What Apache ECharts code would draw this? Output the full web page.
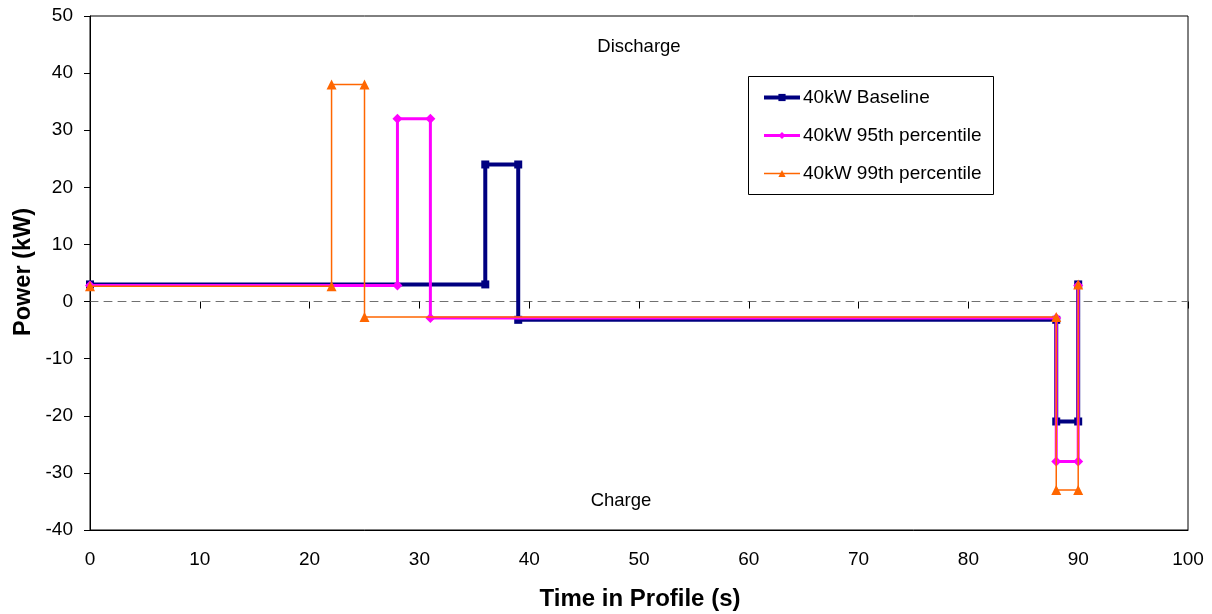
<!DOCTYPE html>
<html>
<head>
<meta charset="utf-8">
<script src="https://cdn.jsdelivr.net/npm/echarts@6/dist/echarts.min.js"></script>
<style>html,body{margin:0;padding:0;background:#fff;}#c{width:1212px;height:614px;}</style>
</head>
<body>
<div id="c"></div>
<script>
// Data
const seriesNames = ['40kW Baseline', '40kW 95th percentile', '40kW 99th percentile'];
const baselineX = [0, 36, 36, 39, 39, 88, 88, 90, 90];
const baselineY = [3, 3, 24, 24, -3.2, -3.2, -21, -21, 3];
const p95X = [0, 28, 28, 31, 31, 88, 88, 90, 90];
const p95Y = [2.8, 2.8, 32, 32, -2.9, -2.9, -28, -28, 2.8];
const p99X = [0, 22, 22, 25, 25, 88, 88, 90, 90];
const p99Y = [2.7, 2.7, 38, 38, -2.7, -2.7, -33, -33, 3];
const xTicks = [0, 10, 20, 30, 40, 50, 60, 70, 80, 90, 100];
const yTicks = [-40, -30, -20, -10, 0, 10, 20, 30, 40, 50];
const annotations = ['Discharge', 'Charge'];

const pair = (xs, ys) => xs.map((x, i) => [x, ys[i]]);
const FONT = 'Liberation Sans, Arial, sans-serif';
const colors = ['#000080', '#ff00ff', '#ff6600'];
const widths = [4, 3, 1.5];

const chart = echarts.init(document.getElementById('c'), null, {renderer: 'canvas'});
chart.setOption({
  backgroundColor: '#fff',
  animation: false,
  grid: {left: 90, right: 24, top: 16, bottom: 84, show: true, borderColor: '#000', borderWidth: 1},
  xAxis: [
    {type: 'value', min: xTicks[0], max: xTicks[xTicks.length - 1], interval: 10, position: 'bottom',
     axisLine: {onZero: false, lineStyle: {color: '#000', width: 1}},
     axisTick: {show: false}, splitLine: {show: false},
     axisLabel: {color: '#000', fontSize: 19, fontFamily: FONT, margin: 20}},
    {type: 'value', min: xTicks[0], max: xTicks[xTicks.length - 1], interval: 10, position: 'bottom',
     axisLine: {onZero: true, lineStyle: {color: '#707070', width: 1, type: [8, 6]}},
     axisTick: {show: true, length: 7, lineStyle: {color: '#000', width: 1}}, splitLine: {show: false},
     axisLabel: {show: false}}
  ],
  yAxis: {type: 'value', min: yTicks[0], max: yTicks[yTicks.length - 1], interval: 10,
    axisLine: {show: true, onZero: false, lineStyle: {color: '#000', width: 1}},
    axisTick: {show: true, length: 6, lineStyle: {color: '#000'}}, splitLine: {show: false},
    axisLabel: {color: '#000', fontSize: 19, fontFamily: FONT, margin: 17}},
  legend: {
    orient: 'vertical', left: 762, top: 88, padding: 0, itemWidth: 36, itemHeight: 9, itemGap: 19,
    textStyle: {color: '#000', fontSize: 19, lineHeight: 19, fontFamily: FONT, padding: [0, 0, 0, -2]},
    data: seriesNames.map((n, i) => ({name: n, lineStyle: {width: widths[i], color: colors[i]}}))
  },
  graphic: [
    {type: 'rect', shape: {x: 748.5, y: 76.5, width: 245, height: 118}, style: {fill: 'none', stroke: '#000', lineWidth: 1}, z: 1},
    {type: 'text', x: 639, y: 47, style: {text: annotations[0], font: '18.5px ' + FONT, fill: '#000', align: 'center', verticalAlign: 'middle'}},
    {type: 'text', x: 621, y: 501, style: {text: annotations[1], font: '18.5px ' + FONT, fill: '#000', align: 'center', verticalAlign: 'middle'}},
    {type: 'text', x: 640, y: 599, style: {text: 'Time in Profile (s)', font: 'bold 24px ' + FONT, fill: '#000', align: 'center', verticalAlign: 'middle'}},
    {type: 'text', x: 24, y: 272, rotation: Math.PI / 2, style: {text: 'Power (kW)', font: 'bold 23.5px ' + FONT, fill: '#000', align: 'center', verticalAlign: 'middle'}}
  ],
  series: [
    {name: seriesNames[0], type: 'line', data: pair(baselineX, baselineY), color: colors[0],
     lineStyle: {width: widths[0], color: colors[0]}, symbol: 'rect', symbolSize: 8, itemStyle: {color: colors[0]}, z: 3},
    {name: seriesNames[1], type: 'line', data: pair(p95X, p95Y), color: colors[1],
     lineStyle: {width: widths[1], color: colors[1]}, symbol: 'diamond', symbolSize: 10, itemStyle: {color: colors[1]}, z: 4},
    {name: seriesNames[2], type: 'line', data: pair(p99X, p99Y), color: colors[2],
     lineStyle: {width: widths[2], color: colors[2]}, symbol: 'triangle', symbolSize: 10, itemStyle: {color: colors[2]}, z: 5}
  ]
});
</script>
</body>
</html>
